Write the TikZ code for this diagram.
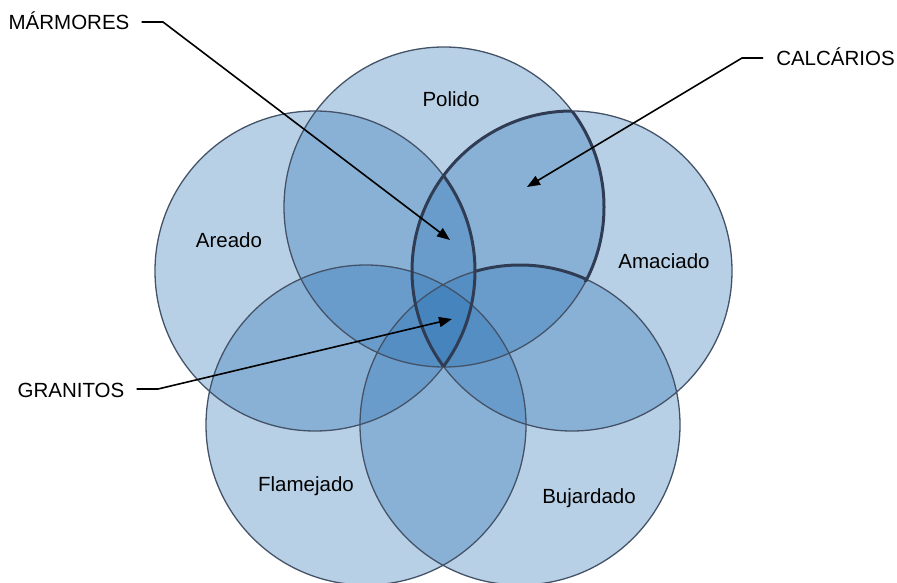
\documentclass[tikz,border=0pt]{standalone}
\usepackage{fontspec}
\setmainfont{Liberation Sans}
\usetikzlibrary{arrows.meta}
\definecolor{vfill}{RGB}{40,113,179}
\definecolor{vline}{RGB}{68,82,104}
\definecolor{vthick}{RGB}{48,60,84}
\begin{document}
\begin{tikzpicture}[x=1pt,y=-1pt,
  lbl/.style={font=\fontsize{20.5}{24}\selectfont, inner sep=0pt, text height=15pt, text depth=4pt, text=black},
  venn/.style={fill=vfill, fill opacity=0.33},
  rim/.style={draw=vline, line width=1.3pt},
  boldrim/.style={draw=vthick, line width=3pt},
  lead/.style={line width=1.6pt, -{Triangle[length=13pt,width=10pt]}}]
\useasboundingbox (0,0) rectangle (897,583);
\coordinate (cP) at (444,207);
\coordinate (cAr) at (315,271);
\coordinate (cAm) at (572,271);
\coordinate (cF) at (366,425);
\coordinate (cB) at (520,425);
\foreach \c in {cP,cAr,cAm,cF,cB} \fill[venn] (\c) circle[radius=160pt];
\foreach \c in {cP,cAr,cAm,cF,cB} \draw[rim] (\c) circle[radius=160pt];
% thick outlines
\begin{scope}
  \clip (cP) circle[radius=160pt];
  \draw[boldrim] (cAm) circle[radius=160pt];
\end{scope}
\begin{scope}
  \clip (cAm) circle[radius=160pt];
  \draw[boldrim] (cAr) circle[radius=160pt];
\end{scope}
\begin{scope}
  \clip (cAm) circle[radius=160pt];
  \clip (300,0) rectangle (700,281);
  \draw[boldrim] (cP) circle[radius=160pt];
\end{scope}
\begin{scope}
  \clip (cP) circle[radius=160pt];
  \clip (475,200) rectangle (700,300);
  \draw[boldrim] (cB) circle[radius=160pt];
\end{scope}
% circle labels
\node[lbl] (pol) at (451,101) {Polido};
\node[lbl] (are) at (229,242) {Areado};
\node[lbl] (ama) at (664,263) {Amaciado};
\node[lbl] (fla) at (306,486) {Flamejado};
\node[lbl] (buj) at (589,498) {Bujardado};
% callouts
\node[lbl] (mar) at (69,24) {MÁRMORES};
\node[lbl] (cal) at (835.5,60) {CALCÁRIOS};
\node[lbl] (gra) at (71,392) {GRANITOS};
\coordinate (marK) at (163,22);
\coordinate (marT) at (450,240);
\coordinate (calK) at (742,58);
\coordinate (calT) at (527,187);
\coordinate (graK) at (158,389);
\coordinate (graT) at (452,319);
\draw[lead, shorten <=12pt] (mar.east |- marK) -- (marK) -- (marT);
\draw[lead, shorten <=13pt] (cal.west |- calK) -- (calK) -- (calT);
\draw[lead, shorten <=12pt] (gra.east |- graK) -- (graK) -- (graT);
\end{tikzpicture}
\end{document}
